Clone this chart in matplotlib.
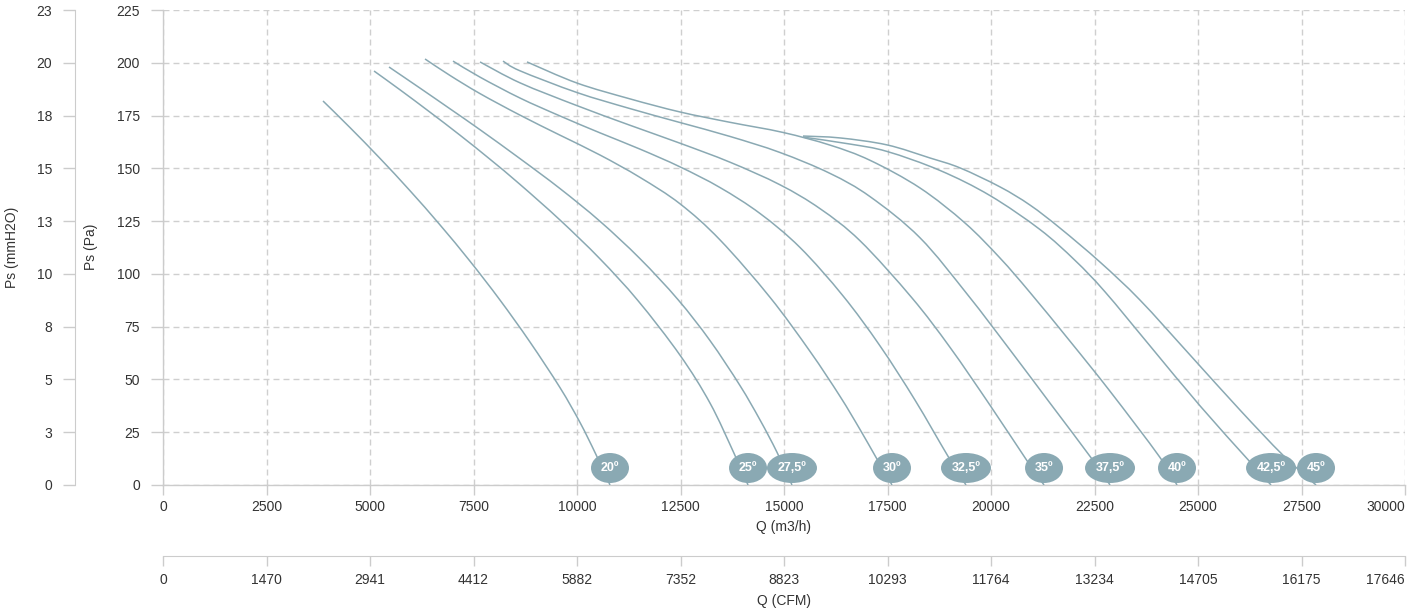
import matplotlib
matplotlib.use("Agg")
import matplotlib.pyplot as plt
import matplotlib.patches as patches
from matplotlib.path import Path
import numpy as np

plt.rcParams['font.family'] = ['Liberation Sans', 'DejaVu Sans']

# eje principal
q_ticks = [0, 2500, 5000, 7500, 10000, 12500, 15000, 17500, 20000, 22500, 25000, 27500, 30000]
cfm_labels = ['0', '1470', '2941', '4412', '5882', '7352', '8823', '10293', '11764',
              '13234', '14705', '16175', '17646']
pa_ticks = [0, 25, 50, 75, 100, 125, 150, 175, 200, 225]
mm_labels = ['0', '3', '5', '8', '10', '13', '15', '18', '20', '23']

angles = ['20º', '25º', '27,5º', '30º', '32,5º', '35º', '37,5º', '40º', '42,5º', '45º']

q_20 = [3865, 4517, 5242, 5966, 6691, 7416, 8140, 8865, 9590, 10073, 10459, 10797]
ps_20 = [181.9, 169.3, 154.7, 139.4, 123.2, 106.0, 87.6, 67.7, 46.1, 29.6, 14.4, 0]

q_25 = [5097, 5725, 6449, 7174, 7899, 8623, 9590, 10556, 11474, 12488, 13213, 13793, 14131]
ps_25 = [196.1, 187.2, 176.6, 165.7, 154.3, 142.4, 125.5, 107.1, 87.3, 61.5, 38.8, 15.0, 0]

q_275 = [5459, 6208, 6932, 7657, 8623, 9590, 10556, 11522, 12440, 13213, 13937, 14421, 14831, 15193]
ps_275 = [198.0, 188.0, 178.2, 168.3, 154.6, 140.4, 124.9, 107.2, 87.8, 68.4, 47.1, 30.8, 15.5, 0]

q_30 = [6329, 6932, 7657, 8623, 9590, 10556, 11522, 12488, 13454, 14662, 15628, 16353, 16836, 17222, 17609]
ps_30 = [201.8, 194.0, 185.4, 175.2, 165.7, 156.3, 145.7, 133.2, 116.1, 88.9, 63.3, 42.0, 26.3, 13.1, 0]

q_325 = [7005, 7657, 8623, 9590, 10556, 11522, 12488, 13454, 14421, 15387, 16425, 17319, 18165, 18962, 19396]
ps_325 = [200.8, 193.2, 183.3, 174.8, 166.8, 159.1, 150.7, 140.9, 128.6, 112.5, 89.6, 65.9, 40.2, 13.6, 0]

q_35 = [7657, 8623, 10000, 11280, 12488, 13696, 14904, 15870, 16836, 18092, 19010, 19976, 20870, 21281]
ps_35 = [200.4, 190.5, 179.7, 170.4, 161.9, 152.9, 142.2, 130.9, 115.7, 88.6, 65.2, 37.8, 11.5, 0]

q_375 = [8213, 8623, 10000, 11280, 12488, 13696, 14904, 16111, 17078, 18285, 19445, 20459, 21425, 22440, 22875]
ps_375 = [200.8, 196.2, 185.9, 178.3, 171.7, 165.1, 157.5, 147.6, 136.6, 117.1, 89.9, 64.0, 38.8, 12.3, 0]

q_40 = [8792, 10000, 11280, 12488, 13696, 14976, 16111, 17078, 18285, 19372, 20218, 20942, 21909, 22875, 24058, 24493]
ps_40 = [200.4, 190.4, 182.9, 176.7, 171.8, 167.0, 161.0, 153.8, 140.7, 124.1, 107.5, 91.2, 68.1, 44.4, 13.7, 0]

q_425 = [15459, 16594, 17488, 18768, 19976, 21184, 22029, 22754, 23841, 25049, 26208, 26764]
ps_425 = [164.8, 161.5, 158.0, 149.0, 137.1, 121.0, 106.4, 91.5, 65.9, 37.5, 12.0, 0]

q_45 = [15459, 16353, 17488, 18527, 19252, 20218, 20942, 21667, 22633, 23599, 24807, 26015, 27054, 27851]
ps_45 = [165.3, 164.4, 161.1, 154.9, 150.2, 141.2, 132.6, 121.7, 105.6, 87.6, 61.6, 35.5, 14.1, 0]

curvas_q = [q_20, q_25, q_275, q_30, q_325, q_35, q_375, q_40, q_425, q_45]
curvas_ps = [ps_20, ps_25, ps_275, ps_30, ps_325, ps_35, ps_375, ps_40, ps_425, ps_45]

W, H = 1418, 613
color_linea = '#8aa9b3'
color_eje = '#cccccc'
color_texto = '#333333'


def curva_suave(x, y):
    """Path bezier (tipo catmull-rom) que pasa por los puntos medidos"""
    p = np.column_stack([x, y]).astype(float)
    ext = np.vstack([p[0], p, p[-1]])
    verts = [p[0]]
    codes = [Path.MOVETO]
    for i in range(len(p) - 1):
        p0, p1, p2, p3 = ext[i], ext[i + 1], ext[i + 2], ext[i + 3]
        verts += [p1 + (p2 - p0) / 6, p2 - (p3 - p1) / 6, p2]
        codes += [Path.CURVE4] * 3
    return Path(verts, codes)


fig = plt.figure(figsize=(W / 100, H / 100), dpi=100)
ax = fig.add_axes([163 / W, 128 / H, 1242 / W, 475 / H])
ax.set_xlim(0, 30000)
ax.set_ylim(0, 225)

ax.set_xticks(q_ticks)
ax.set_xticklabels([str(t) for t in q_ticks])
ax.set_yticks(pa_ticks)
ax.set_yticklabels([str(t) for t in pa_ticks])
ax.get_xticklabels()[-1].set_ha('right')

ax.grid(True, color='#cfcfcf', linestyle=(0, (4.3, 2.9)), linewidth=1.0, zorder=0)
ax.set_axisbelow(True)
for s in ['top', 'right']:
    ax.spines[s].set_visible(False)
for s in ['left', 'bottom']:
    ax.spines[s].set_color(color_eje)
    ax.spines[s].set_linewidth(1.0)
ax.tick_params(axis='x', length=7, width=1, color=color_eje, labelsize=10, pad=4, labelcolor=color_texto)
ax.tick_params(axis='y', length=8.6, width=1, color=color_eje, labelsize=10, pad=8, labelcolor=color_texto)

# eje secundario mmH2O
sec_y = ax.secondary_yaxis((75 - 163) / 1242)
sec_y.set_yticks(pa_ticks)
sec_y.set_yticklabels(mm_labels)
sec_y.spines['left'].set_color(color_eje)
sec_y.tick_params(length=8.6, width=1, color=color_eje, labelsize=10, pad=8, labelcolor=color_texto)

# eje secundario CFM
sec_x = ax.secondary_xaxis(-71 / 475)
sec_x.set_xticks(q_ticks)
sec_x.set_xticklabels(cfm_labels)
sec_x.get_xticklabels()[-1].set_ha('right')
sec_x.spines['bottom'].set_color(color_eje)
sec_x.tick_params(length=7, width=1, color=color_eje, labelsize=10, pad=5, labelcolor=color_texto)

fig.text(784 / W, 1 - 527 / H, 'Q (m3/h)', ha='center', va='center', fontsize=10, color=color_texto)
fig.text(784 / W, 1 - 601 / H, 'Q (CFM)', ha='center', va='center', fontsize=10, color=color_texto)
fig.text(91 / W, 1 - 247 / H, 'Ps (Pa)', ha='center', va='center', rotation=90, fontsize=10, color=color_texto)
fig.text(12 / W, 1 - 247 / H, 'Ps (mmH2O)', ha='center', va='center', rotation=90, fontsize=10, color=color_texto)

px_q = 30000 / 1242
px_pa = 225 / 475
for q, ps, lab in zip(curvas_q, curvas_ps, angles):
    linea = patches.PathPatch(curva_suave(q, ps), facecolor='none', edgecolor=color_linea,
                              linewidth=1.1, zorder=3)
    ax.add_patch(linea)
    ancho = 38 if len(lab) <= 3 else 50
    cx, cy = q[-1], ps[-1] + 17 * px_pa
    ell = patches.Ellipse((cx, cy), ancho * px_q, 30 * px_pa, facecolor=color_linea,
                          edgecolor='none', zorder=4)
    ax.add_patch(ell)
    ax.text(cx, cy, lab, ha='center', va='center', color='white', fontsize=9,
            fontweight='bold', zorder=5)

fig.savefig('out.png', dpi=100)
